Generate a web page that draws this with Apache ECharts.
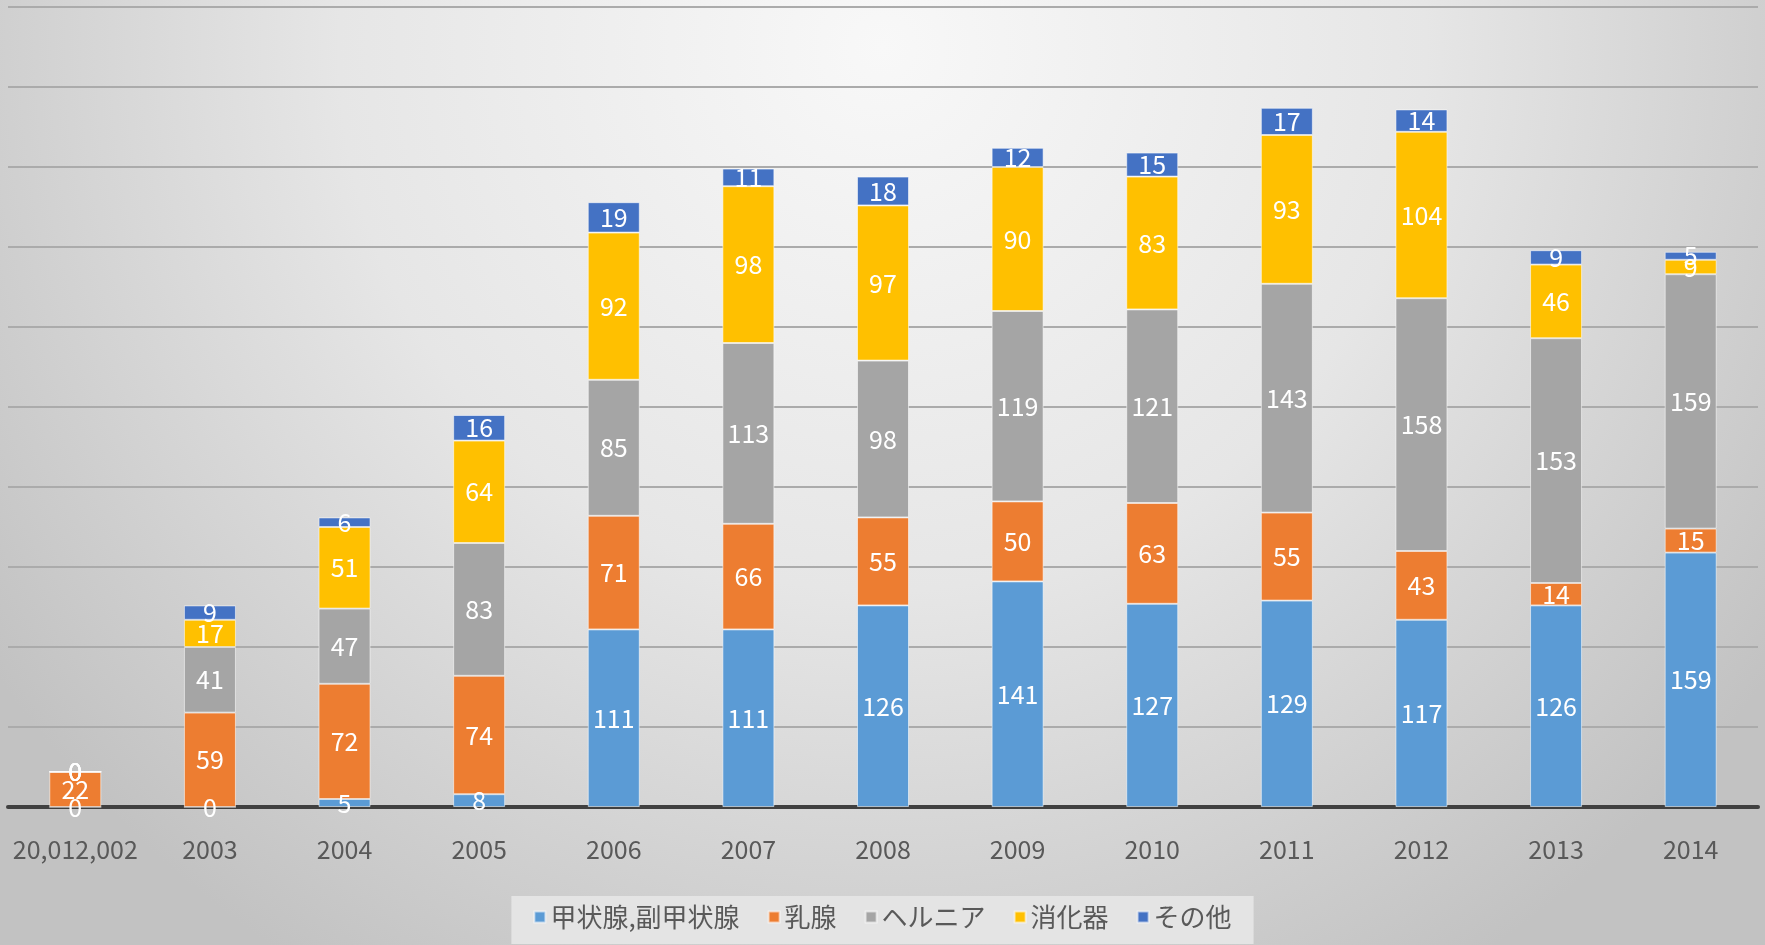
<!DOCTYPE html>
<html>
<head>
<meta charset="utf-8">
<script src="https://cdn.jsdelivr.net/npm/echarts@6/dist/echarts.min.js"></script>
<style>
    html, body { margin: 0; padding: 0; }
    #chart { width: 1765px; height: 945px; }
</style>
</head>
<body>
<div id="chart"></div>
<script>
// 年度（先頭はExcel表示のまま）
const years = ['20,012,002', '2003', '2004', '2005', '2006', '2007', '2008', '2009', '2010', '2011', '2012', '2013', '2014'];

const thyroid = [0, 0, 5, 8, 111, 111, 126, 141, 127, 129, 117, 126, 159];   // 甲状腺,副甲状腺
const breast = [22, 59, 72, 74, 71, 66, 55, 50, 63, 55, 43, 14, 15];         // 乳腺
const hernia = [0, 41, 47, 83, 85, 113, 98, 119, 121, 143, 158, 153, 159];   // ヘルニア
const digestive = [0, 17, 51, 64, 92, 98, 97, 90, 83, 93, 104, 46, 9];       // 消化器
const others = [0, 9, 6, 16, 19, 11, 18, 12, 15, 17, 14, 9, 5];              // その他

const seriesNames = ['甲状腺,副甲状腺', '乳腺', 'ヘルニア', '消化器', 'その他'];
const seriesData = [thyroid, breast, hernia, digestive, others];
const seriesColors = ['#5b9bd5', '#ed7d31', '#a5a5a5', '#ffc000', '#4472c4'];

const font = "'Noto Sans CJK JP', 'Noto Sans', sans-serif";

function buildSeries(name, data, color) {
    return {
        name,
        type: 'bar',
        stack: 'total',
        barWidth: 52,
        data,
        itemStyle: {
            color,
            borderColor: 'rgba(255,255,255,0.55)',
            borderWidth: 1
        },
        label: {
            show: true,
            position: 'inside',
            color: '#fff',
            fontSize: 25,
            fontFamily: font
        }
    };
}

const chart = echarts.init(document.getElementById('chart'));
chart.setOption({
    animation: false,
    backgroundColor: {
        type: 'radial',
        x: 0.5, y: 0.05, r: 1.15,
        colorStops: [
            { offset: 0, color: '#f8f8f8' },
            { offset: 0.5, color: '#e6e6e6' },
            { offset: 1, color: '#c2c2c2' }
        ]
    },
    grid: { left: 8, right: 7, top: 7, bottom: 138, containLabel: false },
    legend: {
        data: seriesNames,
        top: 896,
        left: 'center',
        backgroundColor: '#e4e4e4',
        padding: [8, 22, 14, 22],
        itemWidth: 11,
        itemHeight: 11,
        itemGap: 28,
        icon: 'rect',
        textStyle: { fontSize: 26, color: '#595959', fontFamily: font }
    },
    xAxis: {
        type: 'category',
        data: years,
        axisLine: { lineStyle: { color: '#404040', width: 4 } },
        axisTick: { show: false },
        axisLabel: { interval: 0, color: '#595959', fontSize: 25, margin: 30, fontFamily: font }
    },
    yAxis: {
        type: 'value',
        min: 0,
        max: 500,
        interval: 50,
        axisLabel: { show: false },
        axisLine: { show: false },
        axisTick: { show: false },
        splitLine: { lineStyle: { color: '#ababab', width: 2 } }
    },
    series: seriesNames.map((n, i) => buildSeries(n, seriesData[i], seriesColors[i]))
});
</script>
</body>
</html>
